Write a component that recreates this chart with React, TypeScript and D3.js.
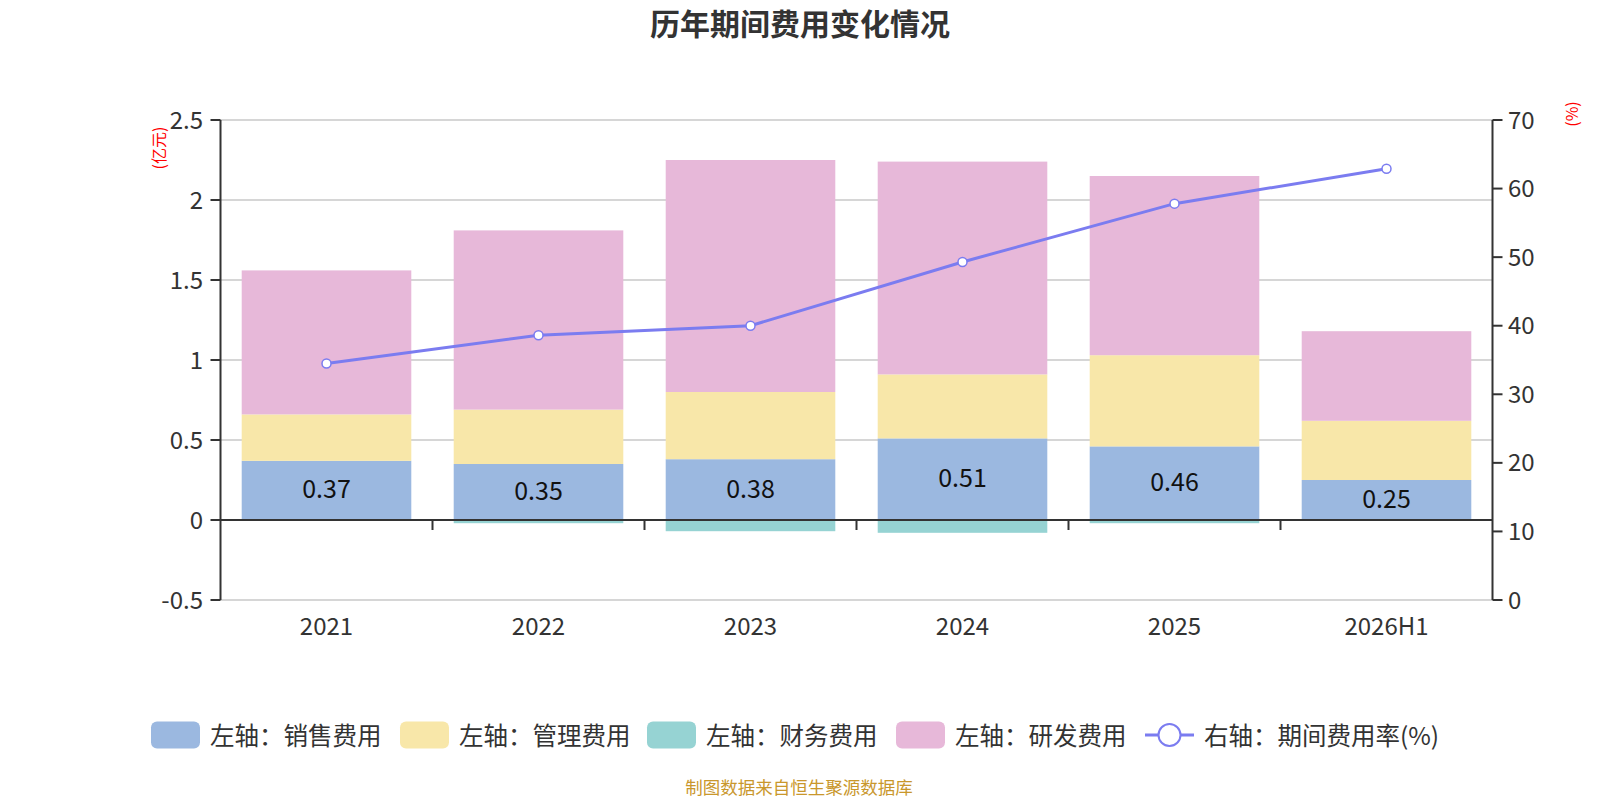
import React from "react"
import * as d3 from "d3"

// chart data
const years = ["2021", "2022", "2023", "2024", "2025", "2026H1"]
const salesCost = [0.37, 0.35, 0.38, 0.51, 0.46, 0.25]
const adminCost = [0.29, 0.34, 0.42, 0.4, 0.57, 0.37]
const financeCost = [-0.005, -0.02, -0.07, -0.08, -0.02, 0]
const rdCost = [0.9, 1.12, 1.45, 1.33, 1.12, 0.56]
const expenseRate = [34.5, 38.6, 40.0, 49.3, 57.8, 62.9]

const leftTicks = [-0.5, 0, 0.5, 1, 1.5, 2, 2.5]
const rightTicks = [0, 10, 20, 30, 40, 50, 60, 70]

const seriesNames = ["左轴：销售费用", "左轴：管理费用", "左轴：财务费用", "左轴：研发费用"]
const lineName = "右轴：期间费用率(%)"
const seriesColors = ["#9bb8e0", "#f8e7a9", "#96d3d3", "#e7b8d9"]
const lineColor = "#7b7cf0"

const FONT = "'Noto Sans CJK SC', 'Noto Sans', sans-serif"

export default function App() {
    const width = 1600
    const height = 800
    const left = 220.5
    const right = 1492.5
    const top = 120
    const bottom = 600

    const x = d3.scaleBand<string>().domain(years).range([left, right]).paddingInner(0.2).paddingOuter(0.1)
    const xBand = d3.scaleBand<string>().domain(years).range([left, right])
    const yL = d3.scaleLinear().domain([-0.5, 2.5]).range([bottom, top])
    const yR = d3.scaleLinear().domain([0, 70]).range([bottom, top])
    const cx = (yr: string) => xBand(yr)! + xBand.bandwidth() / 2

    // stack positives and negatives separately, like echarts
    const series = [salesCost, adminCost, financeCost, rdCost]
    const rects: { key: string; x: number; y: number; w: number; h: number; color: string }[] = []
    years.forEach((yr, i) => {
        let pos = 0
        let neg = 0
        series.forEach((s, k) => {
            const v = s[i]
            if (v === 0) return
            let y0, y1
            if (v > 0) {
                y0 = pos
                y1 = pos + v
                pos = y1
            } else {
                y0 = neg
                y1 = neg + v
                neg = y1
            }
            const a = yL(y0)
            const b = yL(y1)
            rects.push({
                key: `${yr}-${k}`,
                x: x(yr)!,
                y: Math.min(a, b),
                w: x.bandwidth(),
                h: Math.max(Math.abs(a - b), 1),
                color: seriesColors[k],
            })
        })
    })

    const line = d3
        .line<number>()
        .x((_, i) => cx(years[i]))
        .y((d) => yR(d))

    const boundaries = years.slice(1).map((yr) => xBand(yr)!)

    const legendItems = [
        { x: 151, text: seriesNames[0], color: seriesColors[0] },
        { x: 400, text: seriesNames[1], color: seriesColors[1] },
        { x: 647, text: seriesNames[2], color: seriesColors[2] },
        { x: 896, text: seriesNames[3], color: seriesColors[3] },
    ]
    const legendY = 735

    return (
        <svg
            width={width}
            height={height}
            style={{ position: "absolute", left: 0, top: 0, background: "#fff" }}
            fontFamily={FONT}
        >
            <rect width={width} height={height} fill="#fff" />
            <text x={800} y={22} textAnchor="middle" dominantBaseline="central" fontSize={30} fontWeight="bold" fill="#333">
                历年期间费用变化情况
            </text>

            {/* grid */}
            {leftTicks.map((t) =>
                t === 0 ? null : (
                    <line key={t} x1={left} x2={right} y1={yL(t)} y2={yL(t)} stroke="#c8c8c8" strokeWidth={1.5} />
                )
            )}

            {/* bars */}
            {rects.map((r) => (
                <rect key={r.key} x={r.x} y={r.y} width={r.w} height={r.h} fill={r.color} />
            ))}

            {/* x axis at zero */}
            <line x1={left} x2={right} y1={yL(0)} y2={yL(0)} stroke="#333" strokeWidth={2} />
            {boundaries.map((bx, i) => (
                <line key={i} x1={bx} x2={bx} y1={yL(0)} y2={yL(0) + 10} stroke="#333" strokeWidth={2} />
            ))}
            {years.map((yr) => (
                <text key={yr} x={cx(yr)} y={624} textAnchor="middle" dominantBaseline="central" fontSize={24} fill="#333">
                    {yr}
                </text>
            ))}

            {/* left axis */}
            <line x1={left} x2={left} y1={top} y2={bottom} stroke="#333" strokeWidth={2} />
            {leftTicks.map((t) => (
                <g key={t}>
                    <line x1={left - 10} x2={left} y1={yL(t)} y2={yL(t)} stroke="#333" strokeWidth={2} />
                    <text x={203} y={yL(t) - 2} textAnchor="end" dominantBaseline="central" fontSize={24} fill="#333">
                        {t}
                    </text>
                </g>
            ))}
            <text transform="translate(158,148) rotate(-90)" textAnchor="middle" dominantBaseline="central" fontSize={16} fill="red">
                (亿元)
            </text>

            {/* right axis */}
            <line x1={right} x2={right} y1={top} y2={bottom} stroke="#333" strokeWidth={2} />
            {rightTicks.map((t) => (
                <g key={t}>
                    <line x1={right} x2={right + 10} y1={yR(t)} y2={yR(t)} stroke="#333" strokeWidth={2} />
                    <text x={1508} y={yR(t) - 2} textAnchor="start" dominantBaseline="central" fontSize={24} fill="#333">
                        {t}
                    </text>
                </g>
            ))}
            <text transform="translate(1571,114) rotate(-90)" textAnchor="middle" dominantBaseline="central" fontSize={16} fill="red">
                (%)
            </text>

            {/* bar labels */}
            {salesCost.map((v, i) => (
                <text
                    key={i}
                    x={cx(years[i])}
                    y={(yL(0) + yL(v)) / 2 - 3}
                    textAnchor="middle"
                    dominantBaseline="central"
                    fontSize={25}
                    fill="#111"
                >
                    {v.toFixed(2)}
                </text>
            ))}

            {/* rate line */}
            <path d={line(expenseRate) ?? ""} fill="none" stroke={lineColor} strokeWidth={3} />
            {expenseRate.map((v, i) => (
                <circle key={i} cx={cx(years[i])} cy={yR(v)} r={4.5} fill="#fff" stroke={lineColor} strokeWidth={1.5} />
            ))}

            {/* legend */}
            {legendItems.map((it) => (
                <g key={it.text}>
                    <rect x={it.x} y={legendY - 13.5} width={49} height={27} rx={6} fill={it.color} />
                    <text x={it.x + 59} y={legendY - 1} dominantBaseline="central" fontSize={24.5} fill="#333">
                        {it.text}
                    </text>
                </g>
            ))}
            <g>
                <line x1={1145} x2={1194} y1={legendY} y2={legendY} stroke={lineColor} strokeWidth={3} />
                <circle cx={1169.5} cy={legendY} r={11} fill="#fff" stroke={lineColor} strokeWidth={2} />
                <text x={1204} y={legendY - 1} dominantBaseline="central" fontSize={24.5} fill="#333">
                    {lineName}
                </text>
            </g>

            <text x={799} y={786} textAnchor="middle" dominantBaseline="central" fontSize={17.5} fill="#c9972c">
                制图数据来自恒生聚源数据库
            </text>
        </svg>
    )
}
